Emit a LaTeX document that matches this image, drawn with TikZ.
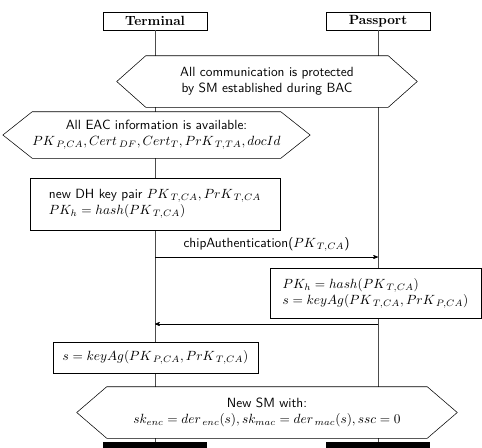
\documentclass[tikz,border=0pt]{standalone}
\usepackage{amsmath}
\usepackage{tikz}
\usetikzlibrary{arrows}
\newcommand{\hexframe}[2]{\draw (#1.north west) -- (#1.north east) -- ([xshift=#2]#1.east) -- (#1.south east) -- (#1.south west) -- ([xshift=-#2]#1.west) -- cycle;}

\begin{document}
\begin{tikzpicture}[x=0.75pt,y=-0.75pt,
  actor/.style={draw,minimum width=78pt,minimum height=13.5pt,inner sep=0pt,font=\bfseries},
  endbar/.style={fill=black,minimum width=78pt,minimum height=7pt,inner sep=0pt},
  lifeline/.style={black!70,semithick},
  hexbody/.style={fill=white,inner sep=0pt,align=center,font=\sffamily},
  action/.style={draw,fill=white,inner sep=0pt,align=left,font=\sffamily},
  msg/.style={->,>=stealth',thin}]
\useasboundingbox (0,0) rectangle (482,447);
\node[actor] (term) at (155,21) {Terminal};
\node[actor] (pass) at (378,21) {Passport};
\node[endbar] (termend) at (155,447) {};
\node[endbar] (passend) at (378,447) {};
\draw[lifeline] (term) -- (termend);
\draw[lifeline] (pass) -- (passend);

\node[hexbody,minimum width=181.5pt,minimum height=38.25pt] (bac) at (267,81.5) {All communication is protected\\by SM established during BAC};
\hexframe{bac}{21.75pt}
\node[hexbody,minimum width=177.75pt,minimum height=34.5pt] (eac) at (156.5,135) {All EAC information is available:\\$PK_{\,P,CA}, Cert_{\,DF}, Cert_T, PrK_{\,T,TA}, docId$};
\hexframe{eac}{22pt}

\node[action,minimum width=187.5pt,minimum height=39pt] (dhpair) at (155,204) {new DH key pair $PK_{\,T,CA}, PrK_{\,T,CA}$\\$PK_h = hash(PK_{\,T,CA})$};
\coordinate (chipT) at (155,257); \coordinate (chipP) at (378,257);
\draw[msg] (chipT) -- node[above=1pt,font=\sffamily] {chipAuthentication($PK_{\,T,CA}$)} (chipP);
\node[action,minimum width=158.25pt,minimum height=37.5pt] (passkey) at (375.5,293) {$PK_h = hash(PK_{\,T,CA})$\\$s = keyAg(PK_{\,T,CA}, PrK_{\,P,CA})$};
\coordinate (retP) at (378,324); \coordinate (retT) at (155,324);
\draw[msg] (retP) -- (retT);
\node[action,minimum width=153.75pt,minimum height=23.25pt] (termkey) at (155.5,357.5) {$s = keyAg(PK_{\,P,CA}, PrK_{\,T,CA})$};

\node[hexbody,minimum width=240pt,minimum height=38.25pt] (newsm) at (267,412.5) {New SM with:\\$sk_{enc} = der_{\,enc}(s), sk_{mac} = der_{\,mac}(s), ssc = 0$};
\hexframe{newsm}{22.5pt}
\end{tikzpicture}
\end{document}
